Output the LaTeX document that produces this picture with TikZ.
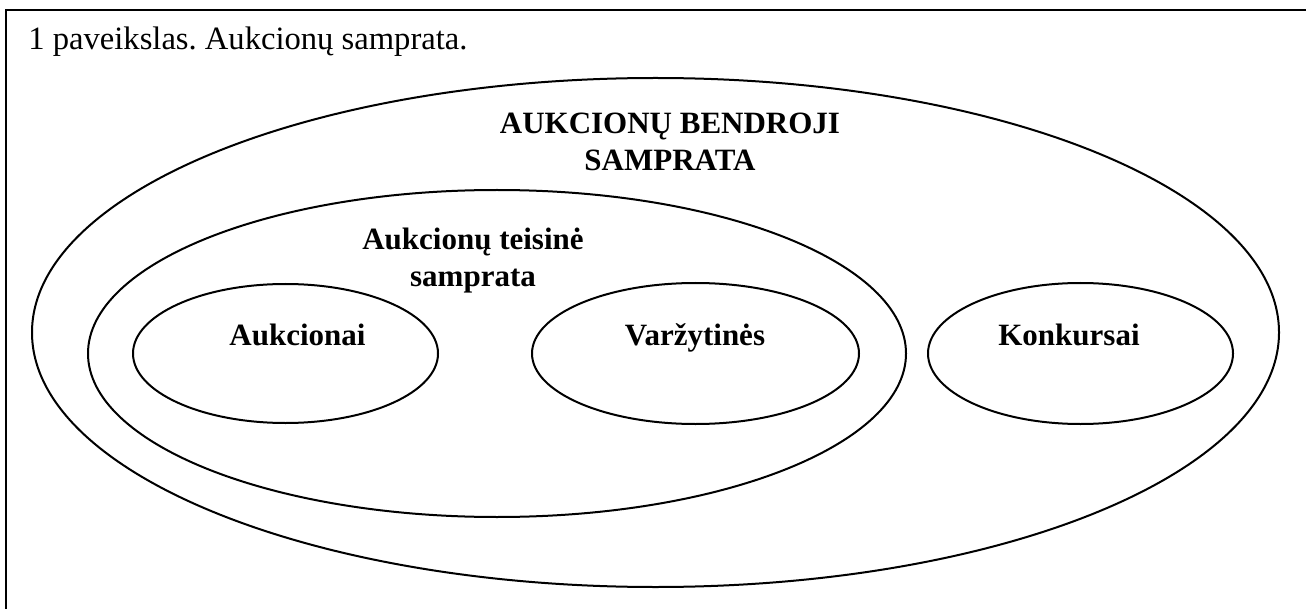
\documentclass[tikz,border=0pt]{standalone}
\usepackage{fontspec}
\setmainfont{Liberation Serif}
\usetikzlibrary{shapes,positioning}

\begin{document}
\frenchspacing
\begin{tikzpicture}[
        x=0.5pt, y=-0.5pt,
        every node/.style={inner sep=0pt},
        ring/.style={draw, ellipse, line width=1pt},
        caption/.style={font=\fontsize{15.5}{18.5}\selectfont\bfseries, align=center, anchor=base}
    ]

    \useasboundingbox (0,0) rectangle (1306,609);
    \clip (0,0) rectangle (1306,609);
    \draw[line width=1.2pt] (6,10) rectangle (1340,650);

    % Nodes
    \node (title) [anchor=base west, font=\fontsize{16.3}{19}\selectfont] at (28,50) {1 paveikslas. Aukcionų samprata.};

    \node (general) [ring, minimum width=623.5pt, minimum height=254.5pt] at (655.5,332.5) {};
    \node (legal)   [ring, minimum width=409pt, minimum height=163.5pt] at (497,353.5) {};
    \node (auctions) [ring, minimum width=152.5pt, minimum height=69.5pt] at (285.5,353.5) {};
    \node (bidding)  [ring, minimum width=163.5pt, minimum height=70.5pt] at (695.5,353.5) {};
    \node (contests) [ring, minimum width=152.5pt, minimum height=70.5pt] at (1080.5,353.5) {};

    % Labels (base = last line)
    \node (generaltxt) [caption] at (670,171) {AUKCIONŲ BENDROJI\\SAMPRATA};
    \node (legaltxt)   [caption] at (473,286) {Aukcionų teisinė\\samprata};
    \node (auctionstxt) [caption] at (297.5,345) {Aukcionai};
    \node (biddingtxt)  [caption] at (695,345) {Varžytinės};
    \node (conteststxt) [caption] at (1069,345) {Konkursai};

\end{tikzpicture}
\end{document}
